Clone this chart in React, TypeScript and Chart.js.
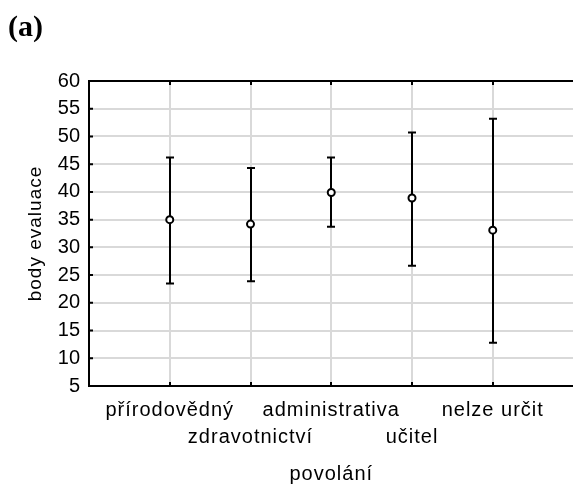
import { useEffect, useRef } from 'react';
import { Chart, registerables } from 'chart.js';

Chart.register(...registerables);

// Occupation groups and evaluation scores (mean with interval limits)
const categories = ['přírodovědný', 'zdravotnictví', 'administrativa', 'učitel', 'nelze určit'];
const means = [35.0, 34.2, 39.9, 38.9, 33.1];
const upperLimits = [46.2, 44.3, 46.2, 50.7, 53.2];
const lowerLimits = [23.5, 23.9, 33.7, 26.7, 12.8];
const yMin = 5;
const yMax = 60;
const yStep = 5;

const SANS = "'Liberation Sans', Arial, sans-serif";
const GRID = '#d9d9d9';
const SPACING = '1px';

// Slightly tracked-out lettering for the category labels and axis titles;
// the numeric y tick labels stay untracked.
const tracking = {
  id: 'tracking',
  beforeLayout(chart: any) {
    chart.ctx.letterSpacing = SPACING;
  },
  afterLayout(chart: any) {
    const ys = chart.scales.y;
    if (ys && !ys.__plainLabels) {
      const orig = ys.drawLabels.bind(ys);
      ys.drawLabels = (area: any) => {
        const c = ys.ctx;
        const prev = c.letterSpacing;
        c.letterSpacing = '0px';
        orig(area);
        c.letterSpacing = prev;
      };
      ys.__plainLabels = true;
    }
  },
  beforeDraw(chart: any) {
    chart.ctx.letterSpacing = SPACING;
  },
};

const errorBars = {
  id: 'errorBars',
  beforeDatasetsDraw(chart: any) {
    const { ctx, scales } = chart;
    const x = scales.x;
    const y = scales.y;
    ctx.save();
    ctx.strokeStyle = '#000';
    ctx.lineWidth = 2;
    ctx.beginPath();
    categories.forEach((_, i) => {
      const px = Math.round(x.getPixelForValue(i + 1));
      const top = y.getPixelForValue(upperLimits[i]);
      const bot = y.getPixelForValue(lowerLimits[i]);
      ctx.moveTo(px, top);
      ctx.lineTo(px, bot);
      ctx.moveTo(px - 4, top);
      ctx.lineTo(px + 4, top);
      ctx.moveTo(px - 4, bot);
      ctx.lineTo(px + 4, bot);
    });
    ctx.stroke();
    ctx.restore();
  },
};

const frame = {
  id: 'frame',
  afterDraw(chart: any) {
    const { ctx, chartArea: a, scales } = chart;
    const x = scales.x;
    const y = scales.y;
    ctx.save();
    ctx.strokeStyle = '#000';
    ctx.lineWidth = 2;
    ctx.beginPath();
    ctx.moveTo(a.left - 1, a.top);
    ctx.lineTo(a.right, a.top);
    x.ticks.forEach((_: any, i: number) => {
      const px = Math.round(x.getPixelForTick(i));
      ctx.moveTo(px, a.top);
      ctx.lineTo(px, a.top + 4);
      ctx.moveTo(px, a.bottom);
      ctx.lineTo(px, a.bottom - 4);
    });
    y.ticks.forEach((_: any, i: number) => {
      const py = y.getPixelForTick(i);
      ctx.moveTo(a.left, py);
      ctx.lineTo(a.left + 4, py);
    });
    ctx.stroke();
    ctx.letterSpacing = '0px';
    ctx.fillStyle = '#000';
    ctx.font = "bold 30px 'Liberation Serif', 'Times New Roman', serif";
    ctx.textBaseline = 'alphabetic';
    ctx.textAlign = 'left';
    ctx.fillText('(a)', 8, 36);
    ctx.restore();
  },
};

export default function App() {
  const ref = useRef<HTMLCanvasElement>(null);

  useEffect(() => {
    if (!ref.current) return;
    const chart = new Chart(ref.current, {
      type: 'scatter',
      data: {
        datasets: [
          {
            data: means.map((m, i) => ({ x: i + 1, y: m })),
            pointRadius: 3.5,
            pointHoverRadius: 3.5,
            pointBorderWidth: 2,
            pointBorderColor: '#000',
            pointBackgroundColor: '#fff',
            showLine: false,
          },
        ],
      },
      options: {
        animation: false,
        responsive: false,
        devicePixelRatio: 1,
        layout: { padding: { top: 81, left: 0, right: 0, bottom: 0 } },
        plugins: {
          legend: { display: false },
          tooltip: { enabled: false },
        },
        scales: {
          x: {
            type: 'linear',
            min: 0,
            max: 6,
            afterBuildTicks: (s: any) => {
              s.ticks = categories.map((_, i) => ({ value: i + 1 }));
            },
            afterFit: (s: any) => {
              s.height = 100;
            },
            ticks: {
              callback: (_v: any, i: number) => (i % 2 === 0 ? [categories[i]] : ['', categories[i]]),
              font: { family: SANS, size: 20, lineHeight: 1.35 },
              color: '#000',
              padding: 11,
              maxRotation: 0,
              autoSkip: false,
            },
            grid: { color: GRID, lineWidth: 2, drawTicks: false },
            border: { color: '#000', width: 2 },
            title: {
              display: true,
              text: 'povolání',
              font: { family: SANS, size: 20 },
              color: '#000',
              padding: { top: 0, bottom: 0 },
            },
          },
          y: {
            min: yMin,
            max: yMax,
            afterFit: (s: any) => {
              s.width = 89;
            },
            ticks: {
              stepSize: yStep,
              font: { family: SANS, size: 20 },
              color: '#000',
              padding: 9,
            },
            grid: { color: GRID, lineWidth: 2, drawTicks: false },
            border: { color: '#000', width: 2 },
            title: {
              display: true,
              text: 'body evaluace',
              font: { family: SANS, size: 19 },
              color: '#000',
              padding: { top: 24, bottom: 0 },
            },
          },
        },
      },
      plugins: [tracking, errorBars, frame],
    } as any);
    return () => chart.destroy();
  }, []);

  return (
    <div
      style={{
        position: 'fixed',
        left: 0,
        top: 0,
        width: 573,
        height: 486,
        overflow: 'hidden',
        background: '#fff',
      }}
    >
      <canvas ref={ref} width={579} height={486} style={{ display: 'block' }} />
    </div>
  );
}
